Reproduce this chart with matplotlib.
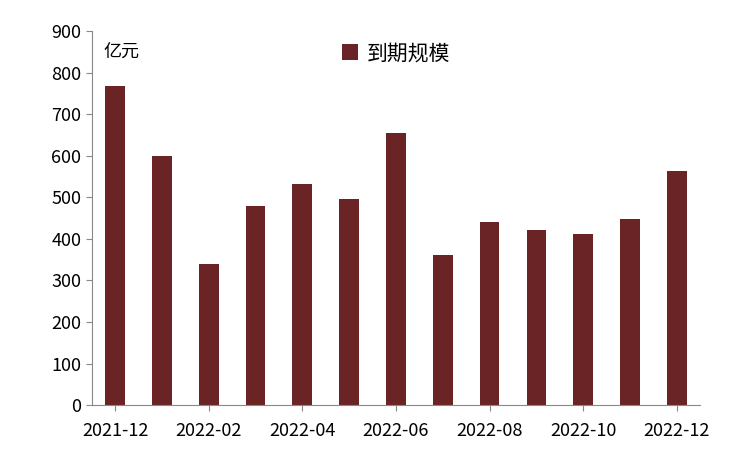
import matplotlib
matplotlib.use("Agg")
import matplotlib.pyplot as plt
import numpy as np

plt.rcParams["font.family"] = ["Noto Sans CJK SC", "DejaVu Sans"]

months = ["2021-12", "2022-01", "2022-02", "2022-03", "2022-04", "2022-05", "2022-06",
          "2022-07", "2022-08", "2022-09", "2022-10", "2022-11", "2022-12"]
values = [768, 600, 340, 478, 532, 495, 655, 362, 440, 422, 412, 447, 563]

fig = plt.figure(figsize=(7.45, 4.63), dpi=100)
ax = fig.add_axes([0.123, 0.125, 0.817, 0.808])

x = np.arange(len(months))
ax.bar(x, values, width=0.42, color="#6B2426", label="到期规模")

ax.set_xlim(-0.5, len(months) - 0.5)
ax.set_ylim(0, 900)
ax.set_yticks(range(0, 901, 100))
ax.set_xticks(x[::2])
ax.set_xticklabels(months[::2])
ax.tick_params(axis="both", labelsize=13, length=4, color="#888888")
ax.tick_params(axis="x", pad=8)

for s in ["top", "right"]:
    ax.spines[s].set_visible(False)
for s in ["left", "bottom"]:
    ax.spines[s].set_color("#888888")

ax.text(0.0, 0.97, "亿元", transform=ax.transAxes, fontsize=13, va="top", ha="left",
        x=0.0) if False else ax.text(0.02, 0.97, "亿元", transform=ax.transAxes,
                                      fontsize=13, va="top", ha="left")
ax.legend(loc="upper center", bbox_to_anchor=(0.5, 1.02), frameon=False, fontsize=15,
          handlelength=0.8, handleheight=0.8, handletextpad=0.4)

fig.savefig("out.png", dpi=100)
